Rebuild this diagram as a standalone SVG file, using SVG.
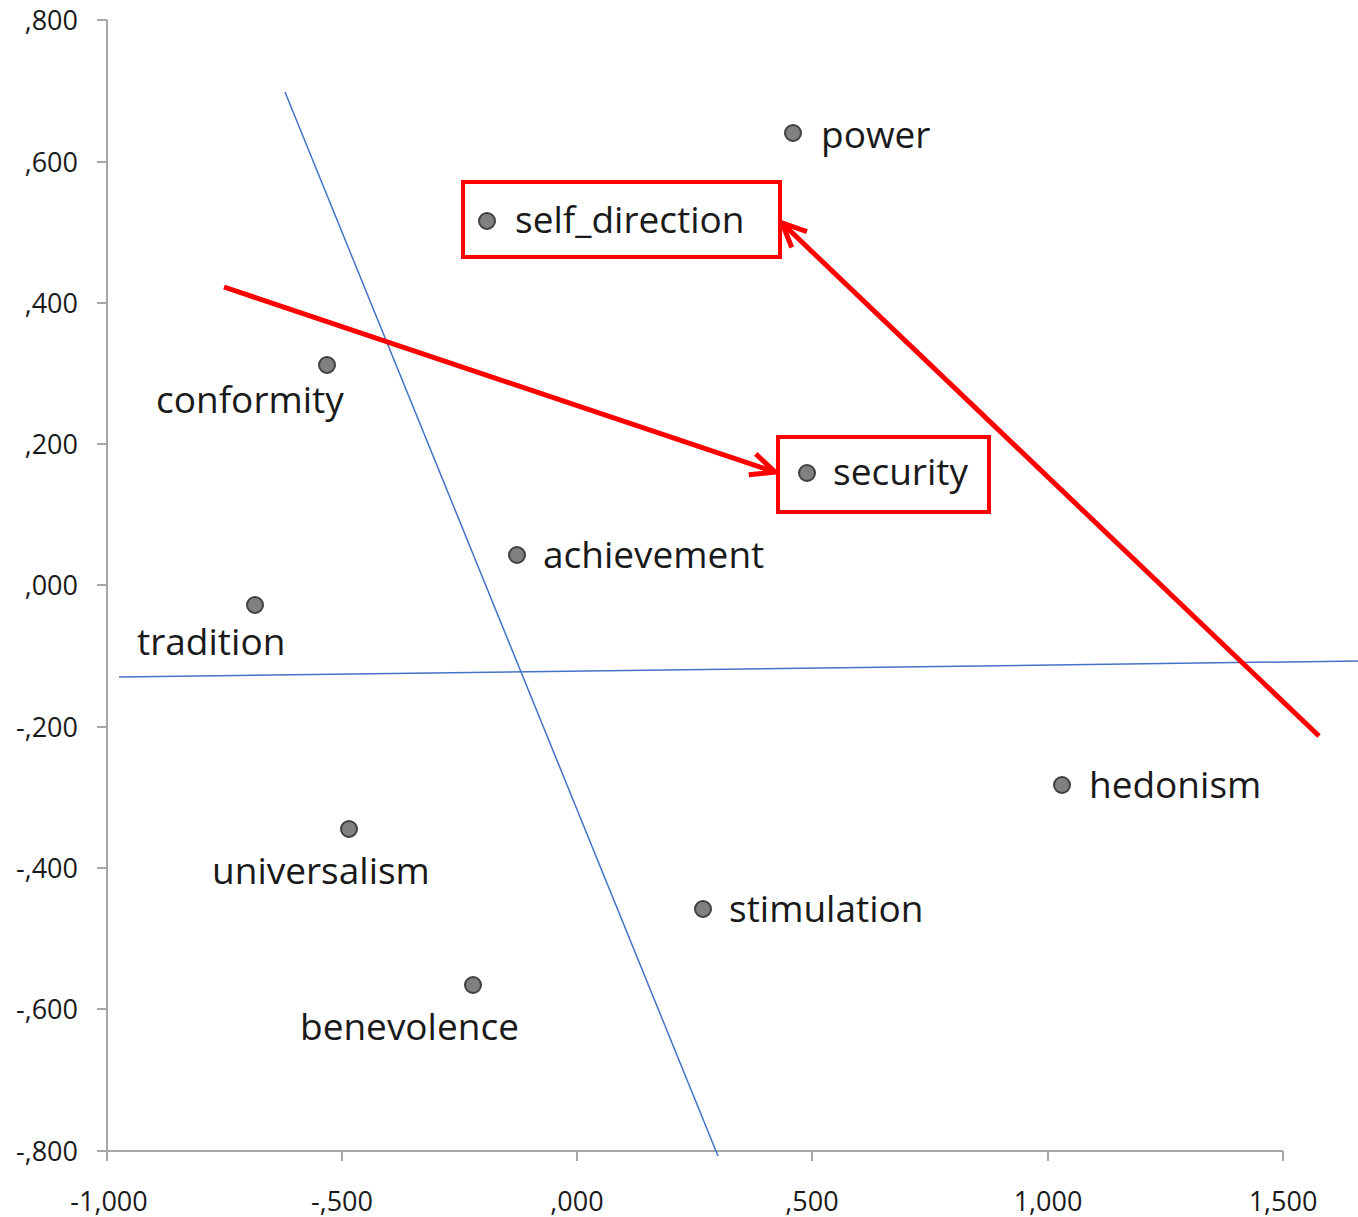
<svg xmlns="http://www.w3.org/2000/svg" width="1358" height="1217" viewBox="0 0 1358 1217">
  <style>
    .axis { stroke: #a6a6a6; stroke-width: 2; fill: none; }
    .tick { font-family: "Open Sans", "Liberation Sans", sans-serif; font-size: 27px; fill: #1a1a1a; }
    .pt { fill: #808080; stroke: #404040; stroke-width: 2; }
    .lbl { font-family: "Open Sans", "Liberation Sans", sans-serif; font-size: 37px; fill: #1a1a1a; }
    .fit { stroke: #4472c4; stroke-width: 1.5; fill: none; }
    .hl { stroke: #ff0000; stroke-width: 4; fill: none; }
    .arrow { stroke: #ff0000; stroke-width: 5; fill: none; marker-end: url(#head); }
  </style>
  <defs>
    <marker id="head" markerUnits="userSpaceOnUse" viewBox="0 0 30 30" refX="28" refY="15" markerWidth="30" markerHeight="30" orient="auto">
      <path d="M4,4 L28,15 L4,26" stroke="#ff0000" stroke-width="5" fill="none" stroke-linejoin="miter"/>
    </marker>
  </defs>
  <rect width="1358" height="1217" fill="#ffffff"/>

  <!-- axes -->
  <g id="axes">
    <path class="axis" d="M107,20 V1151 H1283"/>
    <path class="axis" d="M97,20 H107 M97,162 H107 M97,303 H107 M97,444 H107 M97,585 H107 M97,727 H107 M97,868 H107 M97,1009 H107 M97,1151 H107"/>
    <path class="axis" d="M107,1151 V1161 M342,1151 V1161 M577,1151 V1161 M812,1151 V1161 M1048,1151 V1161 M1283,1151 V1161"/>
    <g class="tick" text-anchor="end">
      <text x="78" y="30">,800</text>
      <text x="78" y="172">,600</text>
      <text x="78" y="313">,400</text>
      <text x="78" y="454">,200</text>
      <text x="78" y="595">,000</text>
      <text x="78" y="737">-,200</text>
      <text x="78" y="878">-,400</text>
      <text x="78" y="1019">-,600</text>
      <text x="78" y="1161">-,800</text>
    </g>
    <g class="tick" text-anchor="middle">
      <text x="109" y="1211">-1,000</text>
      <text x="342" y="1211">-,500</text>
      <text x="577" y="1211">,000</text>
      <text x="812" y="1211">,500</text>
      <text x="1048" y="1211">1,000</text>
      <text x="1283" y="1211">1,500</text>
    </g>
  </g>

  <!-- dimension lines -->
  <g id="fit-lines">
    <line class="fit" x1="285" y1="92" x2="718" y2="1156"/>
    <line class="fit" x1="119" y1="677" x2="1358" y2="661"/>
  </g>

  <!-- value points -->
  <g id="power"><circle class="pt" cx="793" cy="133" r="8"/><text class="lbl" x="821" y="148">power</text></g>
  <g id="self_direction">
    <rect class="hl" x="463" y="182" width="317" height="75"/>
    <circle class="pt" cx="487" cy="221" r="8"/><text class="lbl" x="515" y="233">self_direction</text>
  </g>
  <g id="conformity"><circle class="pt" cx="327" cy="365" r="8"/><text class="lbl" x="156" y="413">conformity</text></g>
  <g id="security">
    <rect class="hl" x="778" y="437" width="211" height="75"/>
    <circle class="pt" cx="807" cy="473" r="8"/><text class="lbl" x="833" y="485">security</text>
  </g>
  <g id="achievement"><circle class="pt" cx="517" cy="555" r="8"/><text class="lbl" x="543" y="568">achievement</text></g>
  <g id="tradition"><circle class="pt" cx="255" cy="605" r="8"/><text class="lbl" x="137" y="655">tradition</text></g>
  <g id="hedonism"><circle class="pt" cx="1062" cy="785" r="8"/><text class="lbl" x="1089" y="798">hedonism</text></g>
  <g id="universalism"><circle class="pt" cx="349" cy="829" r="8"/><text class="lbl" x="212" y="884">universalism</text></g>
  <g id="stimulation"><circle class="pt" cx="703" cy="909" r="8"/><text class="lbl" x="729" y="922">stimulation</text></g>
  <g id="benevolence"><circle class="pt" cx="473" cy="985" r="8"/><text class="lbl" x="300" y="1040">benevolence</text></g>

  <!-- highlight arrows -->
  <g id="connectors">
    <line class="arrow" x1="224" y1="287" x2="775" y2="472"/>
    <line class="arrow" x1="1319" y1="736" x2="782" y2="223"/>
  </g>
</svg>
